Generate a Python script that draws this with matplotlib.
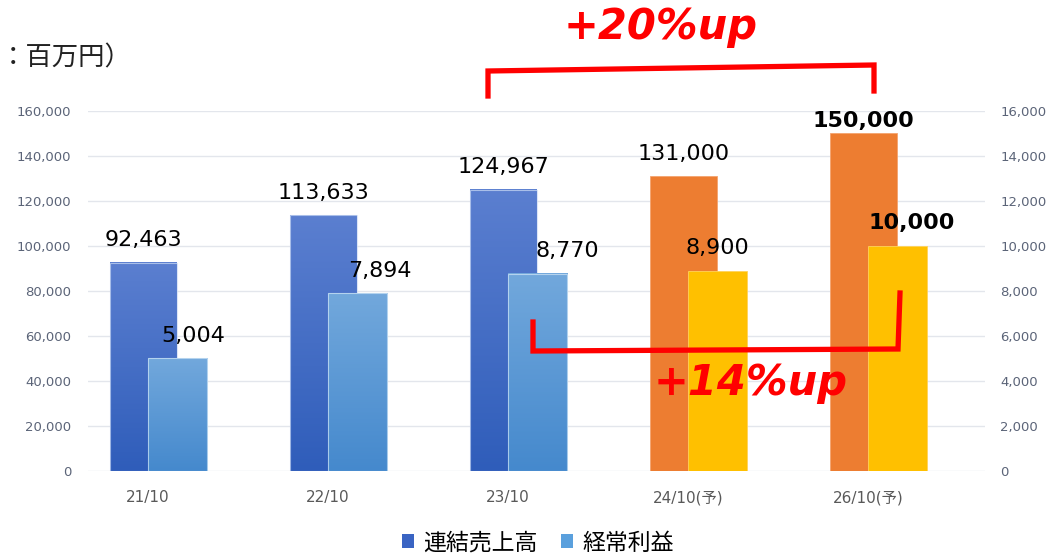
import numpy as np
import matplotlib
matplotlib.use("Agg")
import matplotlib.pyplot as plt
import matplotlib.ticker as ticker
from matplotlib.patches import Patch
from matplotlib.colors import LinearSegmentedColormap
from matplotlib.lines import Line2D

plt.rcParams['font.family'] = ['DejaVu Sans', 'Noto Sans CJK JP']

# データ
periods = ['21/10', '22/10', '23/10', '24/10(予)', '26/10(予)']
sales = [92463, 113633, 124967, 131000, 150000]      # 連結売上高 (左軸)
profit = [5004, 7894, 8770, 8900, 10000]             # 経常利益 (右軸)
is_forecast = [False, False, False, True, True]
bold_labels = [False, False, False, False, True]
growth_sales = '+20%up'
growth_profit = '+14%up'

W, H = 1048, 554
fig = plt.figure(figsize=(W / 100, H / 100), dpi=100)
ax = fig.add_axes([88 / W, 1 - 471 / H, (985 - 88) / W, 360 / H])
ax2 = ax.twinx()

x = np.arange(len(periods))

sales_grad = LinearSegmentedColormap.from_list('s', ['#2F5DBA', '#5B7FD0'])
profit_grad = LinearSegmentedColormap.from_list('p', ['#4589CD', '#72A8DC'])
grad = np.linspace(0, 1, 256).reshape(-1, 1)

# 売上 (左軸)
for i in range(len(x)):
    left = x[i] - 0.211
    w = 0.372
    if is_forecast[i]:
        ax.bar(left, sales[i], width=w, align='edge', color='#ED7D31',
               edgecolor='#F4A36E', linewidth=0.6, zorder=2)
    else:
        ax.imshow(grad, cmap=sales_grad, origin='lower', aspect='auto',
                  interpolation='bilinear',
                  extent=(left, left + w, 0, sales[i]), zorder=2)
        ax.bar(left, sales[i], width=w, align='edge', color='none',
               edgecolor=(0.80, 0.86, 0.96, 0.7), linewidth=0.8, zorder=2.1)
    dy = 5 if bold_labels[i] else 12
    ax.annotate(f'{sales[i]:,}', (x[i] - 0.025, sales[i]), xytext=(0, dy),
                textcoords='offset points', ha='center', va='baseline',
                fontsize=16, color='black',
                fontweight='bold' if bold_labels[i] else 'normal')

# 経常利益 (右軸)
profit_dx = [16, 22, 30, 0, 14]
for i in range(len(x)):
    left = x[i]
    w = 0.328
    if is_forecast[i]:
        ax2.bar(left, profit[i], width=w, align='edge', color='#FFC000',
                edgecolor='#FFD25A', linewidth=0.6, zorder=2)
    else:
        ax2.imshow(grad, cmap=profit_grad, origin='lower', aspect='auto',
                   interpolation='bilinear',
                   extent=(left, left + w, 0, profit[i]), zorder=2)
        ax2.bar(left, profit[i], width=w, align='edge', color='none',
                edgecolor=(0.82, 0.90, 0.97, 0.7), linewidth=0.8, zorder=2.1)
    dy = 12
    ax2.annotate(f'{profit[i]:,}', (x[i] + 0.164, profit[i]),
                 xytext=(profit_dx[i] * 0.72, dy),
                 textcoords='offset points', ha='center', va='baseline',
                 fontsize=16, color='black',
                 fontweight='bold' if bold_labels[i] else 'normal')

# 軸設定
xlim = (-60 / 180, (985 - 148) / 180)
ax.set_xlim(*xlim)
ax2.set_xlim(*xlim)
ax.set_ylim(0, 160000)
ax2.set_ylim(0, 16000)
ax.yaxis.set_major_locator(ticker.MultipleLocator(20000))
ax2.yaxis.set_major_locator(ticker.MultipleLocator(2000))
fmt = ticker.FuncFormatter(lambda v, p: f'{int(v):,}')
ax.yaxis.set_major_formatter(fmt)
ax2.yaxis.set_major_formatter(fmt)
ax.set_xticks(x)
ax.set_xticklabels(periods)

ax.grid(axis='y', color='#E3E6EC', linewidth=1.0, zorder=0)
ax.set_axisbelow(True)
for a in (ax, ax2):
    for s in a.spines.values():
        s.set_visible(False)
ax.tick_params(axis='y', length=0, pad=12, labelsize=9.5, labelcolor='#5B6478')
ax2.tick_params(axis='y', length=0, pad=11, labelsize=9.5, labelcolor='#5B6478')
ax.tick_params(axis='x', length=0, pad=14, labelsize=11, labelcolor='#595959')

# 単位 (左端で切れている部分は省略)
fig.text(0, 1 - 58 / H, '：百万円）', ha='left', va='center',
         fontsize=19, family=['Noto Sans CJK JP', 'DejaVu Sans'], color='#222222')

# 伸び率の括弧と注記 (図のピクセル座標)
def px(pts):
    xs = [p[0] / W for p in pts]
    ys = [1 - p[1] / H for p in pts]
    return xs, ys

for pts in ([(488, 96), (488, 71), (874, 65), (874, 91)],
            [(533, 322), (533, 351), (898, 349), (900, 293)]):
    xs, ys = px(pts)
    fig.add_artist(Line2D(xs, ys, color='#FF0000', linewidth=3.8,
                          solid_joinstyle='miter', transform=fig.transFigure))

fig.text(661 / W, 1 - 27 / H, growth_sales, ha='center', va='center',
         fontsize=30, color='#FF0000', fontweight='bold', fontstyle='italic')
fig.text(751 / W, 1 - 383 / H, growth_profit, ha='center', va='center',
         fontsize=30, color='#FF0000', fontweight='bold', fontstyle='italic')

# 凡例
handles = [Patch(facecolor='#3A64C3', label='連結売上高'),
           Patch(facecolor='#5AA0DD', label='経常利益')]
fig.legend(handles=handles, loc='center', bbox_to_anchor=(538 / W, 1 - 543 / H),
           ncol=2, frameon=False, handlelength=0.55, handleheight=0.55,
           handletextpad=0.4, columnspacing=1.0,
           prop={'family': ['Noto Sans CJK JP', 'DejaVu Sans'], 'size': 16.5})

fig.savefig('out.png', dpi=100)
